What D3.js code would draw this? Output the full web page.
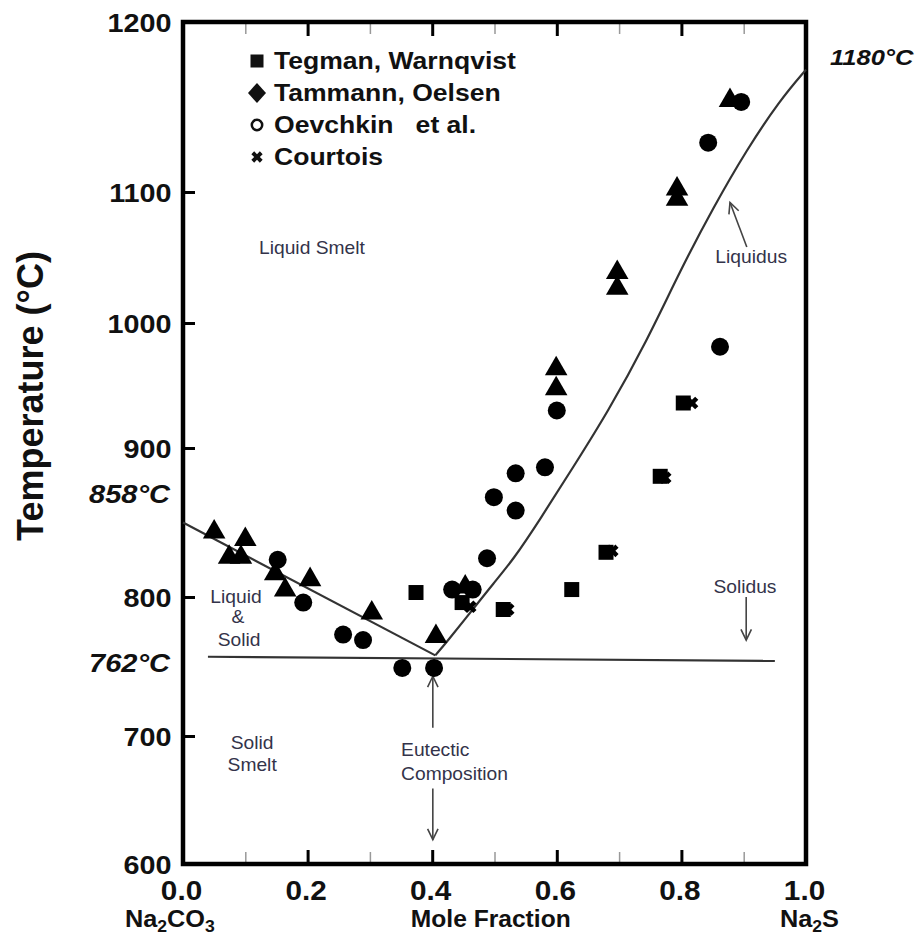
<!DOCTYPE html>
<html>
<head>
<meta charset="utf-8">
<script src="https://cdn.jsdelivr.net/npm/d3@7"></script>
<style>
    body { margin: 0; background: #fff; }
    svg { display: block; font-family: "Liberation Sans", Arial, sans-serif; }
</style>
</head>
<body>
<div id="chart"></div>
<script>
// tick values
const xMajorTicks = [0, 0.2, 0.4, 0.6, 0.8, 1.0];
const xMinorTicks = [0.1, 0.3, 0.5, 0.7, 0.9];
const yTicks = [600, 700, 800, 900, 1000, 1100, 1200];

// series: [mole fraction Na2S, temperature °C]
const tegman = [[0.374, 803], [0.448, 796], [0.514, 791], [0.624, 805], [0.679, 830], [0.766, 881], [0.803, 936]];
const tammann = [[0.050, 845], [0.100, 840], [0.074, 828], [0.093, 828], [0.148, 817], [0.204, 813], [0.164, 806],
    [0.303, 790], [0.406, 773], [0.453, 808], [0.599, 965], [0.599, 949], [0.697, 1040], [0.697, 1028],
    [0.793, 1103], [0.793, 1096], [0.878, 1155]];
const oevchkin = [[0.152, 825], [0.193, 796], [0.257, 773], [0.289, 769], [0.352, 749], [0.403, 749],
    [0.432, 805], [0.465, 805], [0.488, 826], [0.499, 867], [0.534, 858], [0.534, 883], [0.581, 887],
    [0.600, 930], [0.843, 1129], [0.896, 1153], [0.862, 981]];
const courtois = [[0.461, 793], [0.522, 791], [0.689, 831], [0.774, 880], [0.817, 936]];

// phase boundaries
const liquidusLeft = [[0, 850], [0.405, 758]];
const liquidusRight = [[0.405, 758], [0.424, 768], [0.465, 791], [0.498, 809], [0.530, 825], [0.573, 852],
    [0.626, 887], [0.681, 928], [0.745, 986], [0.798, 1040], [0.851, 1088], [0.905, 1125], [0.958, 1154], [1.0, 1172]];
const solidus = [[0.04, 757], [0.95, 754]];

const legendNames = ["Tegman, Warnqvist", "Tammann, Oelsen", "Oevchkin   et al.", "Courtois"];

// region labels: [x, T, text, anchor]
const regionLabels = [
    [0.122, 1053, "Liquid Smelt", "start"],
    [0.912, 1046, "Liquidus", "middle"],
    [0.902, 803, "Solidus", "middle"],
    [0.085, 796, "Liquid", "middle"],
    [0.088, 781, "&", "middle"],
    [0.090, 765, "Solid", "middle"],
    [0.111, 690, "Solid", "middle"],
    [0.111, 673, "Smelt", "middle"],
    [0.350, 684, "Eutectic", "start"],
    [0.350, 666, "Composition", "start"]
];

// arrows: [x1, T1, x2, T2] pointing to the second point
const arrows = [
    [0.905, 1058, 0.878, 1092],
    [0.904, 800, 0.904, 769],
    [0.401, 706, 0.401, 743],
    [0.401, 659, 0.401, 619]
];

const width = 922;
const height = 936;
const plot = { left: 183, right: 806, top: 22, bottom: 864 };

const x = d3.scaleLinear().domain([0, 1]).range([plot.left, plot.right]);
// the printed axis is not evenly spaced, so the scale follows each tick
const y = d3.scaleLinear()
    .domain(yTicks)
    .range([864, 736, 597, 448, 323, 192, 22]);

const svg = d3.select("#chart").append("svg")
    .attr("width", width)
    .attr("height", height);

// ticks
function styleAxis(g, major) {
    g.select(".domain").remove();
    g.selectAll(".tick line")
        .attr("stroke", major ? "#000" : "#999")
        .attr("stroke-width", major ? 3 : 1.5);
}

svg.append("g")
    .attr("transform", "translate(0," + plot.bottom + ")")
    .call(d3.axisBottom(x).tickValues(xMinorTicks).tickSize(-12).tickFormat(""))
    .call(styleAxis, false);

svg.append("g")
    .attr("transform", "translate(0," + plot.top + ")")
    .call(d3.axisTop(x).tickValues(xMinorTicks).tickSize(-12).tickFormat(""))
    .call(styleAxis, false);

svg.append("g")
    .attr("transform", "translate(0," + plot.top + ")")
    .call(d3.axisTop(x).tickValues(xMajorTicks.slice(1, -1)).tickSize(-14).tickFormat(""))
    .call(styleAxis, true);

const xAxis = svg.append("g")
    .attr("transform", "translate(0," + plot.bottom + ")")
    .call(d3.axisBottom(x).tickValues(xMajorTicks).tickSize(-14).tickPadding(17).tickFormat(d3.format(".1f")))
    .call(styleAxis, true);

xAxis.selectAll(".tick text")
    .attr("fill", "#111")
    .attr("font-size", 27)
    .attr("font-weight", "bold")
    .attr("transform", "translate(-2,0) scale(1.1,1)");

const yAxis = svg.append("g")
    .attr("transform", "translate(" + plot.left + ",0)")
    .call(d3.axisLeft(y).tickValues(yTicks).tickSize(-12).tickPadding(10).tickFormat(d3.format("d")))
    .call(styleAxis, true);

yAxis.selectAll(".tick text")
    .attr("fill", "#111")
    .attr("font-size", 25)
    .attr("font-weight", "bold")
    .attr("dy", "0.38em")
    .attr("transform", "scale(1.15,1)");

// frame
svg.append("rect")
    .attr("x", plot.left)
    .attr("y", plot.top)
    .attr("width", plot.right - plot.left)
    .attr("height", plot.bottom - plot.top)
    .attr("fill", "none")
    .attr("stroke", "#000")
    .attr("stroke-width", 4.5);

// phase lines
const straight = d3.line()
    .x(function(d) { return x(d[0]); })
    .y(function(d) { return y(d[1]); });

const smooth = d3.line()
    .x(function(d) { return x(d[0]); })
    .y(function(d) { return y(d[1]); })
    .curve(d3.curveBasis);

[straight(liquidusLeft), smooth(liquidusRight), straight(solidus)].forEach(function(path) {
    svg.append("path")
        .attr("d", path)
        .attr("fill", "none")
        .attr("stroke", "#333")
        .attr("stroke-width", 2.2);
});

// arrows with open heads
arrows.forEach(function(a) {
    const x1 = x(a[0]), y1 = y(a[1]), x2 = x(a[2]), y2 = y(a[3]);
    const angle = Math.atan2(y2 - y1, x2 - x1);
    const head = 12;
    const spread = 0.45;
    const g = svg.append("g")
        .attr("stroke", "#444")
        .attr("stroke-width", 1.6)
        .attr("fill", "none");
    g.append("line")
        .attr("x1", x1).attr("y1", y1)
        .attr("x2", x2).attr("y2", y2);
    g.append("path")
        .attr("d", "M" + (x2 - head * Math.cos(angle - spread)) + "," + (y2 - head * Math.sin(angle - spread)) +
            "L" + x2 + "," + y2 +
            "L" + (x2 - head * Math.cos(angle + spread)) + "," + (y2 - head * Math.sin(angle + spread)));
});

// data points
const markers = svg.append("g").attr("fill", "#000");

markers.selectAll(".tegman")
    .data(tegman)
    .join("path")
    .attr("d", d3.symbol(d3.symbolSquare, 225))
    .attr("transform", function(d) { return "translate(" + x(d[0]) + "," + y(d[1]) + ")"; });

markers.selectAll(".tammann")
    .data(tammann)
    .join("path")
    .attr("d", d3.symbol(d3.symbolTriangle, 220))
    .attr("transform", function(d) { return "translate(" + x(d[0]) + "," + (y(d[1]) + 2) + ")"; });

markers.selectAll(".oevchkin")
    .data(oevchkin)
    .join("circle")
    .attr("cx", function(d) { return x(d[0]); })
    .attr("cy", function(d) { return y(d[1]); })
    .attr("r", 9);

markers.selectAll(".courtois")
    .data(courtois)
    .join("path")
    .attr("d", d3.symbol(d3.symbolCross, 100))
    .attr("transform", function(d) { return "translate(" + x(d[0]) + "," + y(d[1]) + ") rotate(45)"; });

// legend
const legend = svg.append("g").attr("transform", "translate(257,61)");

legendNames.forEach(function(name, i) {
    const row = legend.append("g").attr("transform", "translate(0," + (i * 32) + ")");
    if (i === 0) {
        row.append("rect").attr("x", -6.5).attr("y", -6.5).attr("width", 13).attr("height", 13).attr("fill", "#111");
    } else if (i === 1) {
        row.append("path").attr("d", "M0,-10L9,0L0,10L-9,0Z").attr("fill", "#111");
    } else if (i === 2) {
        row.append("circle").attr("r", 5.2).attr("fill", "none").attr("stroke", "#111").attr("stroke-width", 2.5);
    } else {
        row.append("path").attr("d", d3.symbol(d3.symbolCross, 80)()).attr("transform", "rotate(45)").attr("fill", "#111");
    }
    row.append("text")
        .attr("transform", "translate(17,8) scale(1.13,1)")
        .attr("font-size", 23.5)
        .attr("font-weight", "bold")
        .attr("fill", "#111")
        .style("white-space", "pre")
        .text(name);
});

// region labels
svg.append("g").selectAll("text")
    .data(regionLabels)
    .join("text")
    .attr("transform", function(d) { return "translate(" + x(d[0]) + "," + y(d[1]) + ") scale(1.1,1)"; })
    .attr("text-anchor", function(d) { return d[3]; })
    .attr("font-size", 17.5)
    .attr("fill", "#33334a")
    .text(function(d) { return d[2]; });

// temperature annotations
function italicLabel(px, py, text, anchor, size) {
    svg.append("text")
        .attr("transform", "translate(" + px + "," + py + ") scale(1.16,1)")
        .attr("text-anchor", anchor)
        .attr("font-size", size)
        .attr("font-weight", "bold")
        .attr("font-style", "italic")
        .attr("fill", "#111")
        .text(text);
}
italicLabel(plot.left - 13, y(863), "858°C", "end", 25);
italicLabel(plot.left - 13, y(746), "762°C", "end", 25);
italicLabel(plot.right + 24, y(1175), "1180°C", "start", 22);

// axis titles
svg.append("text")
    .attr("transform", "translate(43," + (y(900) - 52) + ") rotate(-90)")
    .attr("text-anchor", "middle")
    .attr("font-size", 36)
    .attr("font-weight", "bold")
    .attr("fill", "#111")
    .text("Temperature (°C)");

svg.append("text")
    .attr("transform", "translate(" + x(0.494) + ",927) scale(1.07,1)")
    .attr("text-anchor", "middle")
    .attr("font-size", 23)
    .attr("font-weight", "bold")
    .attr("fill", "#111")
    .text("Mole Fraction");

function formula(px, parts) {
    const t = svg.append("text")
        .attr("transform", "translate(" + px + ",927) scale(1.1,1)")
        .attr("font-size", 23)
        .attr("font-weight", "bold")
        .attr("fill", "#111");
    parts.forEach(function(p) {
        t.append("tspan")
            .attr("font-size", p.sub ? 16 : 23)
            .attr("dy", p.sub ? 5 : (p.after ? -5 : 0))
            .text(p.text);
    });
}
formula(125, [{ text: "Na" }, { text: "2", sub: true }, { text: "CO", after: true }, { text: "3", sub: true }]);
formula(780, [{ text: "Na" }, { text: "2", sub: true }, { text: "S", after: true }]);
</script>
</body>
</html>
